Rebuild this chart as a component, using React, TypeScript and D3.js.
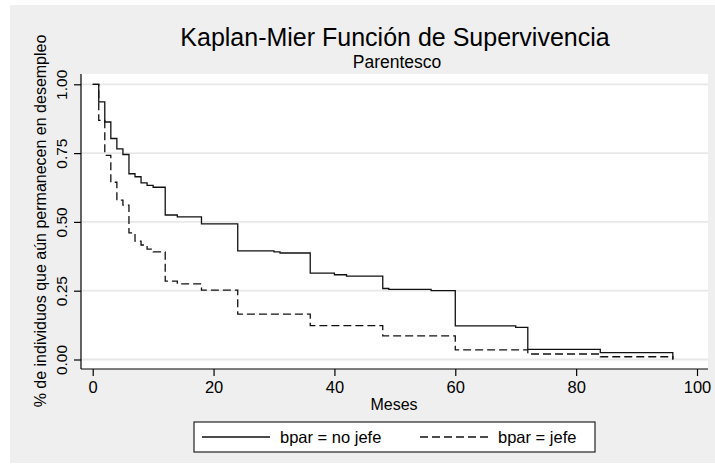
import { useEffect, useRef } from 'react'
import * as d3 from 'd3'

// Kaplan-Meier estimates (months, survival)
const noJefeTime = [0, 1, 2, 3, 4, 5, 6, 7, 8, 9, 10, 12, 14, 18, 24, 30, 31, 36, 40, 42, 48, 49, 56, 60, 70, 72, 84, 96]
const noJefeSurv = [1, 0.936, 0.863, 0.803, 0.765, 0.745, 0.675, 0.664, 0.642, 0.633, 0.626, 0.525, 0.518, 0.493, 0.395, 0.391, 0.387, 0.314, 0.308, 0.303, 0.258, 0.255, 0.25, 0.122, 0.117, 0.037, 0.025, 0]

const jefeTime = [0, 1, 2, 3, 4, 5, 6, 7, 8, 9, 10, 12, 14, 18, 24, 36, 48, 60, 72, 84, 96]
const jefeSurv = [1, 0.869, 0.742, 0.644, 0.579, 0.561, 0.46, 0.43, 0.416, 0.401, 0.391, 0.285, 0.275, 0.252, 0.165, 0.123, 0.086, 0.035, 0.02, 0.01, 0]

const xTicks = [0, 20, 40, 60, 80, 100]
const yTicks = [0, 0.25, 0.5, 0.75, 1]
const legendLabels = ['bpar = no jefe', 'bpar = jefe']

const FONT = 'Arial, "Liberation Sans", sans-serif'

const App = () => {
  const ref = useRef<SVGSVGElement>(null)

  useEffect(() => {
    const w = 715
    const h = 467
    const svg = d3.select(ref.current)
    svg.selectAll('*').remove()
    svg.attr('width', w).attr('height', h)

    // plot region
    const left = 81, right = 708, top = 74, bottom = 369

    svg.append('rect').attr('x', 0).attr('y', 0).attr('width', w).attr('height', h).attr('fill', '#ffffff')
    svg.append('rect').attr('x', 10).attr('y', 5).attr('width', w - 10).attr('height', 458).attr('fill', '#efefef')
    svg.append('rect').attr('x', left).attr('y', top).attr('width', right - left).attr('height', bottom - top).attr('fill', '#ffffff')

    const x = d3.scaleLinear().domain([0, 100]).range([92.7, 697])
    const y = d3.scaleLinear().domain([0, 1]).range([359.5, 84.3])

    // gridlines
    svg.append('g')
      .selectAll('line')
      .data(yTicks)
      .enter()
      .append('line')
      .attr('x1', left).attr('x2', right)
      .attr('y1', d => y(d)).attr('y2', d => y(d))
      .attr('stroke', '#e8e8e8')
      .attr('stroke-width', 1.8)

    // axes
    const xAxis = d3.axisBottom(x).tickValues(xTicks).tickSize(7).tickSizeOuter(0).tickPadding(5).tickFormat(d3.format('d'))
    const gx = svg.append('g').attr('transform', `translate(0, ${bottom})`).call(xAxis)
    gx.select('.domain').attr('d', `M${left},0H${right}`).attr('stroke', '#000').attr('stroke-width', 1.2)
    gx.selectAll('.tick line').attr('stroke', '#000').attr('stroke-width', 1.2)
    gx.selectAll('.tick text').attr('font-family', FONT).attr('font-size', 16.5).attr('fill', '#000')

    const yAxis = d3.axisLeft(y).tickValues(yTicks).tickSize(7).tickSizeOuter(0).tickFormat(d3.format('.2f'))
    const gy = svg.append('g').attr('transform', `translate(${left}, 0)`).call(yAxis)
    gy.select('.domain').attr('d', `M0,${top}V${bottom}`).attr('stroke', '#000').attr('stroke-width', 1.2)
    gy.selectAll('.tick line').attr('stroke', '#000').attr('stroke-width', 1.2)
    gy.selectAll('.tick text')
      .attr('font-family', FONT).attr('font-size', 15.5).attr('fill', '#000')
      .attr('x', null).attr('dy', null)
      .attr('text-anchor', 'middle')
      .attr('transform', 'translate(-14, 0) rotate(-90)')

    // survival curves
    const line = d3.line<[number, number]>()
      .x(d => x(d[0]))
      .y(d => y(d[1]))
      .curve(d3.curveStepAfter)

    const noJefe = noJefeTime.map((t, i) => [t, noJefeSurv[i]] as [number, number])
    const jefe = jefeTime.map((t, i) => [t, jefeSurv[i]] as [number, number])

    svg.append('path').datum(jefe)
      .attr('d', line)
      .attr('fill', 'none').attr('stroke', '#111').attr('stroke-width', 1.3)
      .attr('stroke-dasharray', '8,4')

    svg.append('path').datum(noJefe)
      .attr('d', line)
      .attr('fill', 'none').attr('stroke', '#111').attr('stroke-width', 1.3)

    // titles
    svg.append('text').attr('x', 395).attr('y', 46).attr('text-anchor', 'middle')
      .attr('font-family', FONT).attr('font-size', 25).text('Kaplan-Mier Función de Supervivencia')
    svg.append('text').attr('x', 397).attr('y', 68).attr('text-anchor', 'middle')
      .attr('font-family', FONT).attr('font-size', 17.5).text('Parentesco')

    svg.append('text').attr('x', 394).attr('y', 410).attr('text-anchor', 'middle')
      .attr('font-family', FONT).attr('font-size', 16).text('Meses')

    svg.append('text')
      .attr('transform', `translate(46, 221) rotate(-90)`)
      .attr('text-anchor', 'middle')
      .attr('font-family', FONT).attr('font-size', 16)
      .text('% de individuos que aún permanecen en desempleo')

    // legend
    const lg = svg.append('g')
    lg.append('rect').attr('x', 194).attr('y', 422).attr('width', 401).attr('height', 30)
      .attr('fill', '#fff').attr('stroke', '#222').attr('stroke-width', 1.2)
    const items = [
      { x0: 202, x1: 270, tx: 280, dash: null },
      { x0: 420, x1: 488, tx: 498, dash: '8,4' },
    ]
    items.forEach((it, i) => {
      lg.append('line').attr('x1', it.x0).attr('x2', it.x1).attr('y1', 437).attr('y2', 437)
        .attr('stroke', '#111').attr('stroke-width', 1.3)
        .attr('stroke-dasharray', it.dash)
      lg.append('text').attr('x', it.tx).attr('y', 443)
        .attr('font-family', FONT).attr('font-size', 16.5).text(legendLabels[i])
    })
  }, [])

  return (
    <div style={{ position: 'absolute', top: 0, left: 0 }}>
      <svg ref={ref} style={{ display: 'block' }}></svg>
    </div>
  )
}

export default App
